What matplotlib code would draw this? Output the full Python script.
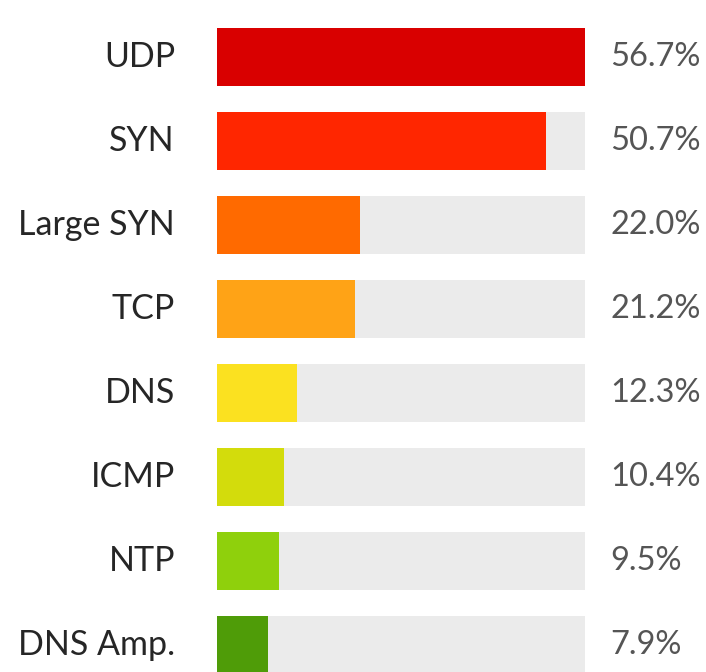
import matplotlib.pyplot as plt

plt.rcParams['font.family'] = ['Lato', 'DejaVu Sans']

attacks = ['UDP', 'SYN', 'Large SYN', 'TCP', 'DNS', 'ICMP', 'NTP', 'DNS Amp.']
shares = [56.7, 50.7, 22.0, 21.2, 12.3, 10.4, 9.5, 7.9]
colors = ['#d90000', '#ff2600', '#ff6a00', '#ffa316', '#fbe120',
          '#d3dc0c', '#8fd00c', '#4f9c08']

track = max(shares)

fig = plt.figure(figsize=(7.06, 6.72), dpi=100)
ax = fig.add_axes([217 / 706, 0, 368 / 706, 1])

ypos = range(len(attacks))
ax.barh(ypos, [track] * len(attacks), height=0.69, color='#ebebeb')
ax.barh(ypos, shares, height=0.69, color=colors)

for y, name, v in zip(ypos, attacks, shares):
    ax.annotate(name, (0, y), xytext=(-42, 0), textcoords='offset pixels',
                ha='right', va='center', fontsize=24.5, color='#262626')
    ax.annotate(f'{v:.1f}%', (track, y), xytext=(25, 0), textcoords='offset pixels',
                ha='left', va='center', fontsize=23.5, color='#555555')

ax.set_xlim(0, track)
ax.set_ylim(7.32, -0.68)
ax.axis('off')

fig.savefig('out.png', dpi=100)
